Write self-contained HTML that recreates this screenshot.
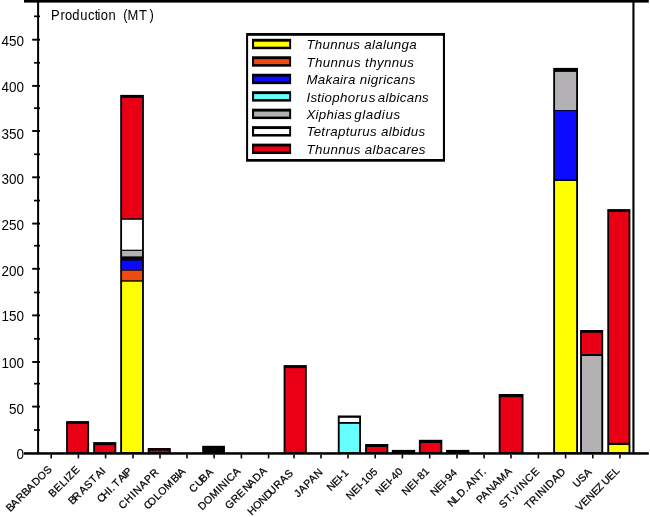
<!DOCTYPE html>
<html lang="en"><head><meta charset="utf-8"><title>Production (MT)</title>
<style>html,body{margin:0;padding:0;background:#fff}body{width:650px;height:517px;overflow:hidden}</style></head>
<body>
<svg width="650" height="517" viewBox="0 0 650 517" style="display:block" font-family="'Liberation Sans', sans-serif">
<rect width="650" height="517" fill="#fff"/>
<g>
<rect x="66.10" y="421.10" width="23.00" height="32.10" fill="#000"/>
<rect x="67.95" y="423.80" width="19.30" height="28.40" fill="#ea0014"/>
<rect x="93.20" y="442.10" width="23.10" height="11.10" fill="#000"/>
<rect x="95.05" y="445.20" width="19.40" height="7.00" fill="#ea0014"/>
<rect x="120.20" y="94.90" width="23.70" height="358.30" fill="#000"/>
<rect x="122.05" y="98.00" width="20.00" height="120.20" fill="#ea0014"/>
<rect x="122.05" y="219.80" width="20.00" height="29.90" fill="#ffffff"/>
<rect x="122.05" y="250.90" width="20.00" height="5.50" fill="#b3b1b3"/>
<rect x="122.05" y="260.60" width="20.00" height="9.30" fill="#0a0aff"/>
<rect x="122.05" y="270.70" width="20.00" height="9.60" fill="#f04a10"/>
<rect x="122.05" y="281.70" width="20.00" height="170.50" fill="#ffff00"/>
<rect x="147.70" y="448.00" width="23.10" height="5.20" fill="#000"/>
<rect x="149.55" y="450.60" width="19.40" height="1.60" fill="#c4001a"/>
<rect x="202.20" y="445.80" width="22.80" height="7.40" fill="#000"/>
<rect x="283.60" y="365.10" width="23.20" height="88.10" fill="#000"/>
<rect x="285.45" y="368.10" width="19.50" height="84.10" fill="#ea0014"/>
<rect x="337.80" y="415.50" width="23.20" height="37.70" fill="#000"/>
<rect x="339.65" y="417.80" width="19.50" height="4.20" fill="#ffffff"/>
<rect x="339.65" y="423.80" width="19.50" height="28.40" fill="#66ffff"/>
<rect x="365.10" y="444.00" width="23.20" height="9.20" fill="#000"/>
<rect x="366.95" y="447.00" width="19.50" height="5.20" fill="#ea0014"/>
<rect x="391.80" y="449.90" width="23.40" height="3.30" fill="#000"/>
<rect x="418.90" y="439.80" width="23.40" height="13.40" fill="#000"/>
<rect x="420.75" y="443.00" width="19.70" height="9.20" fill="#ea0014"/>
<rect x="446.00" y="449.90" width="23.40" height="3.30" fill="#000"/>
<rect x="498.70" y="394.00" width="24.80" height="59.20" fill="#000"/>
<rect x="500.55" y="397.20" width="21.10" height="55.00" fill="#ea0014"/>
<rect x="553.20" y="67.90" width="24.80" height="385.30" fill="#000"/>
<rect x="555.05" y="71.90" width="21.10" height="38.10" fill="#b3b1b3"/>
<rect x="555.05" y="110.80" width="21.10" height="68.60" fill="#0a0aff"/>
<rect x="555.05" y="181.00" width="21.10" height="271.20" fill="#ffff00"/>
<rect x="580.10" y="330.00" width="23.10" height="123.20" fill="#000"/>
<rect x="581.95" y="332.80" width="19.40" height="21.20" fill="#ea0014"/>
<rect x="581.95" y="356.00" width="19.40" height="96.20" fill="#b3b1b3"/>
<rect x="607.30" y="209.10" width="23.10" height="244.10" fill="#000"/>
<rect x="609.15" y="211.90" width="19.40" height="230.90" fill="#ea0014"/>
<rect x="609.15" y="445.00" width="19.40" height="7.20" fill="#ffff00"/>
</g>
<rect x="23.8" y="452.2" width="625" height="2.5" fill="#000"/>
<rect x="24" y="0" width="624.8" height="2.6" fill="#000"/>
<rect x="37.1" y="0" width="2" height="453.2" fill="#000"/>
<rect x="632.4" y="0" width="2.1" height="453.2" fill="#000"/>
<rect x="34.0" y="429.15" width="6.0" height="1.7" fill="#000"/>
<rect x="32.2" y="405.65" width="7.8" height="1.9" fill="#000"/>
<rect x="34.0" y="382.85" width="6.0" height="1.7" fill="#000"/>
<rect x="32.2" y="361.05" width="7.8" height="1.9" fill="#000"/>
<rect x="34.0" y="337.95" width="6.0" height="1.7" fill="#000"/>
<rect x="32.2" y="314.45" width="7.8" height="1.9" fill="#000"/>
<rect x="34.0" y="291.62" width="6.0" height="1.7" fill="#000"/>
<rect x="32.2" y="267.85" width="7.8" height="1.9" fill="#000"/>
<rect x="34.0" y="244.85" width="6.0" height="1.7" fill="#000"/>
<rect x="32.2" y="222.65" width="7.8" height="1.9" fill="#000"/>
<rect x="34.0" y="199.72" width="6.0" height="1.7" fill="#000"/>
<rect x="32.2" y="176.35" width="7.8" height="1.9" fill="#000"/>
<rect x="34.0" y="153.45" width="6.0" height="1.7" fill="#000"/>
<rect x="32.2" y="130.05" width="7.8" height="1.9" fill="#000"/>
<rect x="34.0" y="107.35" width="6.0" height="1.7" fill="#000"/>
<rect x="32.2" y="84.95" width="7.8" height="1.9" fill="#000"/>
<rect x="34.0" y="61.95" width="6.0" height="1.7" fill="#000"/>
<rect x="32.2" y="38.75" width="7.8" height="1.9" fill="#000"/>
<rect x="34.0" y="15.45" width="6.0" height="1.7" fill="#000"/>
<g font-size="13.5" text-anchor="end" fill="#000">
<text transform="translate(23.9,458.90) scale(1,1.035)">0</text>
<text transform="translate(23.9,413.95) scale(1,1.035)">50</text>
<text transform="translate(23.9,367.65) scale(1,1.035)">100</text>
<text transform="translate(23.9,321.30) scale(1,1.035)">150</text>
<text transform="translate(23.9,276.35) scale(1,1.035)">200</text>
<text transform="translate(23.9,229.95) scale(1,1.035)">250</text>
<text transform="translate(23.9,183.60) scale(1,1.035)">300</text>
<text transform="translate(23.9,138.75) scale(1,1.035)">350</text>
<text transform="translate(23.9,91.90) scale(1,1.035)">400</text>
<text transform="translate(23.9,45.50) scale(1,1.035)">450</text>
</g>
<rect x="50.40" y="454.50" width="1.6" height="3.9" fill="#000"/>
<rect x="77.60" y="454.50" width="1.6" height="3.9" fill="#000"/>
<rect x="104.80" y="454.50" width="1.6" height="3.9" fill="#000"/>
<rect x="132.20" y="454.50" width="1.6" height="3.9" fill="#000"/>
<rect x="159.20" y="454.50" width="1.6" height="3.9" fill="#000"/>
<rect x="186.20" y="454.50" width="1.6" height="3.9" fill="#000"/>
<rect x="213.30" y="454.50" width="1.6" height="3.9" fill="#000"/>
<rect x="240.60" y="454.50" width="1.6" height="3.9" fill="#000"/>
<rect x="267.80" y="454.50" width="1.6" height="3.9" fill="#000"/>
<rect x="293.20" y="454.50" width="1.6" height="3.9" fill="#000"/>
<rect x="320.20" y="454.50" width="1.6" height="3.9" fill="#000"/>
<rect x="347.20" y="454.50" width="1.6" height="3.9" fill="#000"/>
<rect x="374.40" y="454.50" width="1.6" height="3.9" fill="#000"/>
<rect x="401.60" y="454.50" width="1.6" height="3.9" fill="#000"/>
<rect x="428.90" y="454.50" width="1.6" height="3.9" fill="#000"/>
<rect x="456.20" y="454.50" width="1.6" height="3.9" fill="#000"/>
<rect x="483.30" y="454.50" width="1.6" height="3.9" fill="#000"/>
<rect x="510.20" y="454.50" width="1.6" height="3.9" fill="#000"/>
<rect x="537.60" y="454.50" width="1.6" height="3.9" fill="#000"/>
<rect x="564.80" y="454.50" width="1.6" height="3.9" fill="#000"/>
<rect x="592.00" y="454.50" width="1.6" height="3.9" fill="#000"/>
<rect x="619.10" y="454.50" width="1.6" height="3.9" fill="#000"/>
<g font-size="10.5" fill="#000" stroke="#000" stroke-width="0.25">
<text transform="translate(10.25,512.25) rotate(-45)" letter-spacing="0.17" dx="0 -1.2 1.0 0 -1.0 1.2 0 0">BARBADOS</text>
<text transform="translate(52.80,497.80) rotate(-45)" letter-spacing="0.52">BELIZE</text>
<text transform="translate(72.55,505.05) rotate(-45)" letter-spacing="0.51" dx="0 -2 1 0 0 1.5 -0.5">BRASTAI</text>
<text transform="translate(101.25,503.25) rotate(-45)" letter-spacing="0.13" dx="0 -1.8 0 0.3 1.5 1.5 -0.5 -1.0">CHI.TAIP</text>
<text transform="translate(122.65,509.65) rotate(-45)" letter-spacing="0.80">CHINAPR</text>
<text transform="translate(148.10,510.10) rotate(-45)" letter-spacing="-0.30" dx="0 -2.5 1 0.5 0.5 1.5 -0.5 -0.5">COLOMBIA</text>
<text transform="translate(193.20,493.20) rotate(-45)" letter-spacing="-0.12" dx="0 1 -1.5 0.5">CUBA</text>
<text transform="translate(202.25,510.75) rotate(-45)" letter-spacing="0.33">DOMINICA</text>
<text transform="translate(229.25,509.75) rotate(-45)" letter-spacing="0.33" dx="0 0 0 1 -1.5 0.5 0">GRENADA</text>
<text transform="translate(251.79,515.64) rotate(-45)" letter-spacing="-0.13" dx="0 0 0 0 -2 1 0.5 0.5">HONDURAS</text>
<text transform="translate(298.30,497.80) rotate(-45)" letter-spacing="0.56">JAPAN</text>
<text transform="translate(331.05,491.55) rotate(-45)" letter-spacing="-0.32" dx="0 0 0 -1 1">NEI-1</text>
<text transform="translate(350.30,500.30) rotate(-45)" letter-spacing="0.16" dx="0 0 0 -1 1 0 0">NEI-105</text>
<text transform="translate(379.50,496.00) rotate(-45)" letter-spacing="0.23" dx="0 0 0 -1 1 0">NEI-40</text>
<text transform="translate(405.95,495.95) rotate(-45)" letter-spacing="0.26" dx="0 0 0 -1 1 0">NEI-81</text>
<text transform="translate(434.45,496.45) rotate(-45)" letter-spacing="-0.02" dx="0 0 0 -1 1 0">NEI-94</text>
<text transform="translate(451.75,507.25) rotate(-45)" letter-spacing="0.37" dx="0 -1.5 0.5 0 1 0 0 0">NLD.ANT.</text>
<text transform="translate(480.50,504.00) rotate(-45)" letter-spacing="0.29" dx="0 -0.5 1.0 -0.5 0 0">PANAMA</text>
<text transform="translate(503.25,508.75) rotate(-45)" letter-spacing="0.65">ST.VINCE</text>
<text transform="translate(528.80,509.80) rotate(-45)" letter-spacing="0.47" dx="0 -0.3 0.6 -0.3 0 0 0 0">TRINIDAD</text>
<text transform="translate(577.00,488.00) rotate(-45)" letter-spacing="-0.08">USA</text>
<text transform="translate(580.05,511.55) rotate(-45)" letter-spacing="0.17" dx="0 0 0 0 -1.5 2 -0.5 0">VENEZUEL</text>
</g>
<text transform="translate(51.1,20.3) scale(1,1.09)" font-size="13" dx="0 .78 .09 -.03 .82 .61 .31 -.93 .44 .35 0 4.02 -.29 .85 2.47" fill="#000">Production (MT)</text>
<rect x="246.1" y="33" width="198.9" height="128.7" fill="#000"/>
<rect x="248.1" y="35.8" width="194.8" height="123.2" fill="#fff"/>
<g font-size="13.3" font-style="italic" fill="#000">
<rect x="252" y="38.80" width="39.1" height="10.4" fill="#000"/>
<rect x="254.1" y="41.70" width="35.1" height="5.0" fill="#ffff00"/>
<text x="306.4" y="49.20" letter-spacing="0.3">Thunnus alalunga</text>
<rect x="252" y="56.27" width="39.1" height="10.4" fill="#000"/>
<rect x="254.1" y="59.17" width="35.1" height="5.0" fill="#f04a10"/>
<text x="306.4" y="66.90" letter-spacing="0.4">Thunnus thynnus</text>
<rect x="252" y="73.74" width="39.1" height="10.4" fill="#000"/>
<rect x="254.1" y="76.64" width="35.1" height="5.0" fill="#0a0aff"/>
<text x="306.4" y="84.00" letter-spacing="0.3">Makaira nigricans</text>
<rect x="252" y="91.21" width="39.1" height="10.4" fill="#000"/>
<rect x="254.1" y="94.11" width="35.1" height="5.0" fill="#66ffff"/>
<text x="306.4" y="101.70" letter-spacing="0.3" dx="0 0 0 0 0 0 0 0 0 0 1 0 -2 0 0 0 0 0 0 0">Istiophorus albicans</text>
<rect x="252" y="108.68" width="39.1" height="10.4" fill="#000"/>
<rect x="254.1" y="111.58" width="35.1" height="5.0" fill="#b3b1b3"/>
<text x="306.4" y="119.10" letter-spacing="0.3" dx="0 0 0 0 0 0 0 0 -2 .33 .33 .33 .33 .33 .33">Xiphias gladius</text>
<rect x="252" y="126.15" width="39.1" height="10.4" fill="#000"/>
<rect x="254.1" y="129.05" width="35.1" height="5.0" fill="#ffffff"/>
<text x="306.4" y="136.25" letter-spacing="0.34">Tetrapturus albidus</text>
<rect x="252" y="143.62" width="39.1" height="10.4" fill="#000"/>
<rect x="254.1" y="146.52" width="35.1" height="5.0" fill="#ea0014"/>
<text x="306.4" y="153.80" letter-spacing="0.37">Thunnus albacares</text>
</g>
</svg>
</body></html>
